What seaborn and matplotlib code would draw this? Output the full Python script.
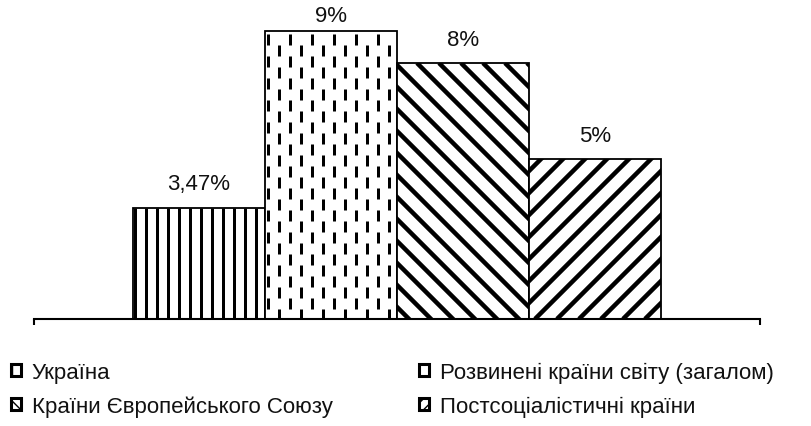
import numpy as np
import pandas as pd
import seaborn as sns
import matplotlib
matplotlib.use("Agg")
import matplotlib.pyplot as plt
from matplotlib.collections import LineCollection
from matplotlib.patches import Patch
from matplotlib.transforms import IdentityTransform

# Data
countries = [
    "Україна",
    "Розвинені країни світу (загалом)",
    "Країни Європейського Союзу",
    "Постсоціалістичні країни",
]
values = [3.47, 9, 8, 5]
value_labels = ["3,47%", "9%", "8%", "5%"]

df = pd.DataFrame({"country": countries, "value": values})

sns.set_theme(style="white")
plt.rcParams["font.family"] = ["Liberation Sans", "DejaVu Sans"]
FS = 16

W, H, DPI = 812, 427, 100
fig = plt.figure(figsize=(W / DPI, H / DPI), dpi=DPI)
fig.patch.set_facecolor("white")
ax = fig.add_axes([34 / W, (H - 320) / H, (760 - 34) / W, 320 / H])

sns.barplot(
    data=df, x="country", y="value", hue="country",
    order=countries, hue_order=countries,
    palette=["white"] * 4, width=1.0, legend=False,
    edgecolor="black", linewidth=1.3, saturation=1, ax=ax,
)

ax.set_xlim(-1.25, 4.25)
ax.set_ylim(0, 10)
ax.set_xlabel("")
ax.set_ylabel("")
ax.set_yticks([])
ax.set_xticks([-1.25, 4.25])
ax.set_xticklabels([])
ax.tick_params(axis="x", direction="out", length=4, width=1.5, color="black", bottom=True)
for side in ["top", "left", "right"]:
    ax.spines[side].set_visible(False)
ax.spines["bottom"].set_color("black")
ax.spines["bottom"].set_linewidth(1.5)

# Value labels above the bars, kept inside the plot area
for i, (v, lab) in enumerate(zip(values, value_labels)):
    ax.text(i, min(v + 0.75, 9.47), lab, ha="center", va="center",
            fontsize=FS, color="#111111")

fig.canvas.draw()
bars = ax.patches[:4]
PT = 0.72  # points per pixel at 100 dpi


def add_lines(bar, segs, lw_px):
    lc = LineCollection(segs, colors="black", linewidths=lw_px * PT,
                        transform=IdentityTransform(), zorder=bar.get_zorder() + 0.1,
                        capstyle="butt")
    lc.set_clip_path(bar)
    fig.add_artist(lc)


def vertical_fill(bar, step, start=2):
    bb = bar.get_window_extent()
    xs = np.arange(bb.x0 + start, bb.x1 + 1, step)
    return [[(x, bb.y0), (x, bb.y1)] for x in xs]


def dashed_fill(bar, step, dash, period, start=3):
    bb = bar.get_window_extent()
    segs = []
    for k, x in enumerate(np.arange(bb.x0 + start, bb.x1 + 1, step)):
        off = (period / 2) * (k % 2)
        y = bb.y1 - 3 - off
        while y > bb.y0 - period:
            segs.append([(x, y), (x, y - dash)])
            y -= period
    return segs


def diag_fill(bar, step, direction):
    bb = bar.get_window_extent()
    L = bb.width + bb.height + 10
    segs = []
    for c in np.arange(bb.x0 - L, bb.x1 + L, step):
        if direction == "down":
            segs.append([(c, bb.y1), (c + L, bb.y1 - L)])
        else:
            segs.append([(c, bb.y0), (c + L, bb.y0 + L)])
    return segs


add_lines(bars[0], vertical_fill(bars[0], 11), 3)
add_lines(bars[1], dashed_fill(bars[1], 11, 11, 22), 3)
add_lines(bars[2], diag_fill(bars[2], 22, "down"), 4.5)
add_lines(bars[3], diag_fill(bars[3], 22, "up"), 4.5)

# Legend
hatches = ["||", "", "\\\\\\", "///"]
handles = [Patch(facecolor="white", edgecolor="black", linewidth=2.2, hatch=h, label=c)
           for h, c in zip(hatches, countries)]
order = [0, 2, 1, 3]
leg = fig.legend(
    [handles[i] for i in order], [countries[i] for i in order],
    loc="upper left", bbox_to_anchor=(-0.006, 0.186), ncol=2, frameon=False,
    fontsize=FS, handlelength=0.45, handleheight=0.45, handletextpad=0.5,
    columnspacing=3.9, labelspacing=0.55, borderaxespad=0.3,
)
for t in leg.get_texts():
    t.set_color("#111111")

fig.savefig("out.png", dpi=DPI, facecolor="white")
